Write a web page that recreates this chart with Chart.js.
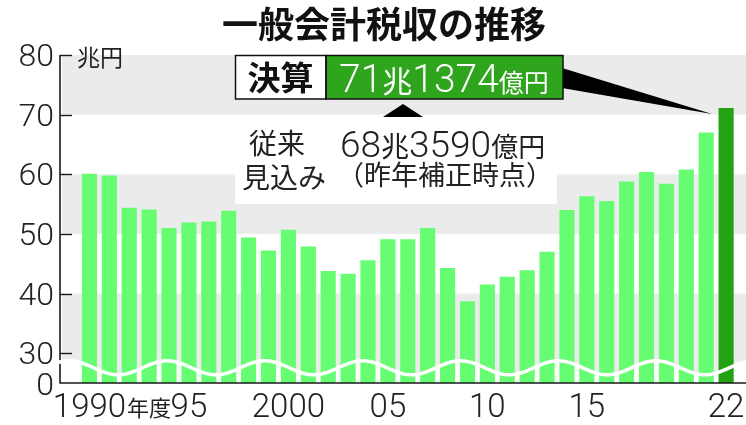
<!DOCTYPE html>
<html>
<head>
<meta charset="utf-8">
<script src="https://cdn.jsdelivr.net/npm/chart.js@4/dist/chart.umd.min.js"></script>
<style>
html,body{margin:0;padding:0;background:#fff;}
canvas{display:block;}
</style>
</head>
<body>
<canvas id="c" width="746" height="425"></canvas>
<script>
// ---- data ----
const years = [1990,1991,1992,1993,1994,1995,1996,1997,1998,1999,2000,2001,2002,2003,2004,2005,2006,2007,2008,2009,2010,2011,2012,2013,2014,2015,2016,2017,2018,2019,2020,2021,2022];
const revenue = [60.1,59.8,54.4,54.1,51.0,51.9,52.1,53.9,49.4,47.2,50.7,47.9,43.8,43.3,45.6,49.1,49.1,51.0,44.3,38.7,41.5,42.8,43.9,47.0,54.0,56.3,55.5,58.8,60.4,58.4,60.8,67.0,71.1];
const yTicks = [30,40,50,60,70,80];
const yBreakLabel = '0';
const xTickYears = [1990,1995,2000,2005,2010,2015,2022];
const xTickLabels = ['1990','95','2000','05','10','15','22'];
const titleText = '一般会計税収の推移';
const unitText = '兆円';
const settledLabel = '決算';
const settledParts = ['71','兆','1374','億円'];
const forecastLabel = ['従来','見込み'];
const forecastParts = ['68','兆','3590','億円'];
const forecastNote = '（昨年補正時点）';

// ---- styles ----
const LIGHT = '#66fd72';
const DARK = '#23a214';
const BOXGREEN = '#2ea51c';
const BAND = '#ebebeb';
const JP = '"Noto Sans CJK JP", sans-serif';
const NUM = 'Roboto, "Liberation Sans", Arial, sans-serif';

function runs(ctx, x, y, parts){
  let cx = x;
  for (const [t,f,c] of parts){
    ctx.font = f; ctx.fillStyle = c;
    ctx.fillText(t, cx, y);
    cx += ctx.measureText(t).width;
  }
  return cx;
}

const deco = {
  id:'deco',
  beforeDatasetsDraw(chart){
    const {ctx, chartArea:a, scales:{x,y}} = chart;
    ctx.save();
    ctx.fillStyle = BAND;
    const bands = [[70,80],[50,60],[y.min,40]];
    for (const [lo,hi] of bands){
      const t = y.getPixelForValue(hi), b = y.getPixelForValue(lo);
      ctx.fillRect(a.left+2, t, a.right-a.left-2, b-t);
    }
    const cy = y.getPixelForValue((y.min+30)/2+0.05);
    ctx.fillStyle = '#fff';
    ctx.beginPath();
    ctx.moveTo(a.left+1, a.bottom);
    for (let px=a.left+1; px<=a.right; px++){
      ctx.lineTo(px, cy - 7*Math.cos(2*Math.PI*(px-167)/97.8));
    }
    ctx.lineTo(a.right, a.bottom);
    ctx.closePath();
    ctx.fill();
    ctx.restore();
  },
  afterDatasetsDraw(chart){
    const {ctx, chartArea:a, scales:{x,y}} = chart;
    ctx.save();
    ctx.strokeStyle = '#1a1a1a';
    ctx.lineWidth = 1.6;
    ctx.beginPath();
    ctx.moveTo(a.left, a.top); ctx.lineTo(a.left, a.bottom); ctx.lineTo(a.right, a.bottom);
    ctx.stroke();
    ctx.lineWidth = 1.4;
    for (const v of yTicks){
      const py = Math.round(y.getPixelForValue(v))+0.5;
      ctx.beginPath(); ctx.moveTo(a.left, py); ctx.lineTo(a.left+12, py); ctx.stroke();
    }
    const cy = y.getPixelForValue((y.min+30)/2+0.05);
    ctx.strokeStyle = '#fff';
    ctx.lineWidth = 3.5;
    ctx.beginPath();
    for (let px=a.left-5; px<=a.right; px++){
      const py = cy - 7*Math.cos(2*Math.PI*(px-167)/97.8);
      if (px===a.left-5) ctx.moveTo(px,py); else ctx.lineTo(px,py);
    }
    ctx.stroke();

    // y labels
    ctx.fillStyle = '#222';
    ctx.font = '300 32px ' + NUM;
    ctx.textAlign = 'right';
    ctx.textBaseline = 'alphabetic';
    for (const v of yTicks){
      ctx.fillText(String(v), a.left-6, y.getPixelForValue(v)+11);
    }
    ctx.fillText(yBreakLabel, a.left-6, y.getPixelForValue(y.min)+12);
    ctx.textAlign = 'left';
    ctx.textBaseline = 'middle';
    ctx.font = '23px ' + JP;
    ctx.fillText(unitText, a.left+17, y.getPixelForValue(80)+2);

    // x labels
    ctx.textBaseline = 'alphabetic';
    const base = a.bottom + 34;
    xTickYears.forEach((yr,i)=>{
      const px = x.getPixelForValue(yr);
      ctx.textAlign = 'center';
      ctx.font = '300 33px ' + NUM;
      ctx.fillStyle = '#222';
      ctx.fillText(xTickLabels[i], px, base);
      if (i===0){
        const w = ctx.measureText(xTickLabels[i]).width;
        ctx.textAlign = 'left';
        ctx.font = '22px ' + JP;
        ctx.fillText('年度', px + w/2 + 1, base - 1);
      }
    });

    // title
    ctx.textAlign = 'center';
    ctx.textBaseline = 'middle';
    ctx.fillStyle = '#111';
    ctx.font = 'bold 36px ' + JP;
    ctx.fillText(titleText, 384, 24);

    // forecast white box
    ctx.fillStyle = '#fff';
    ctx.fillRect(235, 115, 322, 89);

    // callout wedge
    const tipX = x.getPixelForValue(2022) - 14;
    const tipY = y.getPixelForValue(revenue[revenue.length-1]) + 6;
    ctx.fillStyle = '#000';
    ctx.beginPath();
    ctx.moveTo(562, 68); ctx.lineTo(tipX, tipY); ctx.lineTo(562, 88); ctx.closePath(); ctx.fill();

    // settled box
    ctx.fillStyle = '#fff';
    ctx.fillRect(235, 55, 91, 44);
    ctx.fillStyle = BOXGREEN;
    ctx.fillRect(326, 55, 237, 44);
    ctx.strokeStyle = '#111';
    ctx.lineWidth = 1.5;
    ctx.strokeRect(235.5, 55.5, 90.5, 43.5);
    ctx.strokeRect(326, 55.5, 237, 43.5);
    ctx.fillStyle = '#111';
    ctx.font = 'bold 33px ' + JP;
    ctx.textAlign = 'center';
    ctx.textBaseline = 'middle';
    ctx.fillText(settledLabel, 280.5, 77);
    ctx.textAlign = 'left';
    ctx.textBaseline = 'alphabetic';
    runs(ctx, 339, 92, [
      [settledParts[0], '300 39px '+NUM, '#fff'],
      [settledParts[1], '30px '+JP, '#fff'],
      [settledParts[2], '300 39px '+NUM, '#fff'],
      [settledParts[3], '25px '+JP, '#fff']
    ]);

    // small triangle
    ctx.fillStyle = '#000';
    ctx.beginPath();
    ctx.moveTo(383, 117); ctx.lineTo(403, 104); ctx.lineTo(423, 117); ctx.closePath(); ctx.fill();

    // forecast text
    ctx.fillStyle = '#222';
    ctx.font = '28px ' + JP;
    ctx.textBaseline = 'middle';
    ctx.textAlign = 'left';
    ctx.fillText(forecastLabel[0], 249, 143);
    ctx.fillText(forecastLabel[1], 242, 177);
    ctx.textBaseline = 'alphabetic';
    runs(ctx, 340, 157, [
      [forecastParts[0], '300 37px '+NUM, '#222'],
      [forecastParts[1], '28px '+JP, '#222'],
      [forecastParts[2], '300 37px '+NUM, '#222'],
      [forecastParts[3], '27px '+JP, '#222']
    ]);
    ctx.textBaseline = 'middle';
    ctx.font = '27px ' + JP;
    ctx.fillText(forecastNote, 337, 175);

    ctx.restore();
  }
};

new Chart(document.getElementById('c'), {
  type:'bar',
  data:{
    datasets:[{
      data: years.map((yr,i)=>({x:yr, y:revenue[i]})),
      backgroundColor: years.map((yr,i)=> i===years.length-1 ? DARK : LIGHT),
      borderWidth:0,
      barPercentage:0.76,
      categoryPercentage:1
    }]
  },
  options:{
    responsive:false,
    animation:false,
    devicePixelRatio:1,
    layout:{padding:{left:60,right:0,top:55,bottom:42}},
    plugins:{legend:{display:false}, tooltip:{enabled:false}, title:{display:false}},
    scales:{
      x:{type:'linear', min:1988.52, max:2023.0, offset:false, display:false},
      y:{min:25, max:80, display:false}
    }
  },
  plugins:[deco]
});
</script>
</body>
</html>
